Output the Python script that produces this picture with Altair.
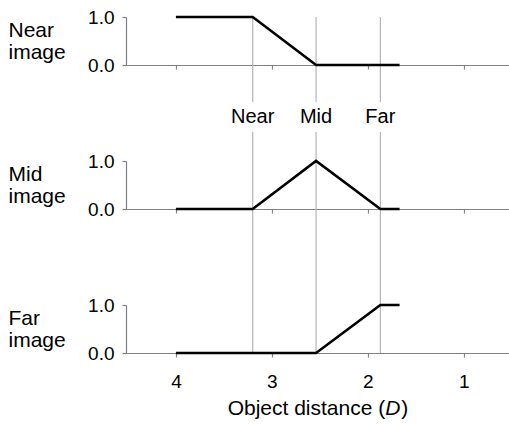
import altair as alt
import pandas as pd

FONT = "Liberation Sans"

# Tick values of the shared distance axis (dioptres, reversed)
x_ticks = [4, 3, 2, 1]

# Focal planes of the three image layers
plane_names = ["Near", "Mid", "Far"]
plane_pos = [3.2, 2.54, 1.87]

# Weight of each image layer as a function of object distance
near_d = [4.0, 3.2, 2.54, 1.67]
near_w = [1.0, 1.0, 0.0, 0.0]

mid_d = [4.0, 3.2, 2.54, 1.87, 1.67]
mid_w = [0.0, 0.0, 1.0, 0.0, 0.0]

far_d = [4.0, 2.54, 1.87, 1.67]
far_w = [0.0, 0.0, 1.0, 1.0]

W, H, GAP = 383, 48, 96
AXIS_GREY = "#808080"
RULE_GREY = "#b5b5b5"

xscale = alt.Scale(domain=[4.52, 0.53], nice=False, zero=False)
yscale = alt.Scale(domain=[0, 1], nice=False, zero=False)

planes = pd.DataFrame({"d": plane_pos, "name": plane_names})


def x_axis(show_labels):
    return alt.Axis(
        values=x_ticks, tickSize=4, labels=show_labels, labelFont=FONT,
        labelFontSize=19, labelColor="black", labelPadding=15, title=None,
        grid=False, domainColor=AXIS_GREY, tickColor=AXIS_GREY,
        domainWidth=1.2, tickWidth=1.2,
    )


def y_axis(title_lines):
    return alt.Axis(
        values=[0, 1], format=".1f", tickSize=4, labelFont=FONT,
        labelFontSize=19, labelColor="black", labelPadding=8,
        grid=False, domainColor=AXIS_GREY, tickColor=AXIS_GREY,
        domainWidth=1.2, tickWidth=1.2,
        title=title_lines, titleAngle=0, titleAlign="left",
        titleBaseline="middle", titleX=-118, titleY=H / 2 - 11,
        titleFont=FONT, titleFontSize=21, titleFontWeight="normal",
        titleColor="black", titleLineHeight=22,
    )


def rules(segments, show_labels):
    xa = x_axis(show_labels)
    layers = []
    for y0, y1 in segments:
        layers.append(
            alt.Chart(planes).mark_rule(color=RULE_GREY, strokeWidth=1.2).encode(
                x=alt.X("d:Q", scale=xscale, axis=xa),
                y=alt.value(y0),
                y2=alt.value(y1),
            )
        )
    return layers


def panel(d, w, title_lines, segments, show_labels, extra=()):
    df = pd.DataFrame({"d": d, "w": w})
    line = alt.Chart(df).mark_line(color="black", strokeWidth=2.6).encode(
        x=alt.X("d:Q", scale=xscale, axis=x_axis(show_labels)),
        y=alt.Y("w:Q", scale=yscale, axis=y_axis(title_lines)),
    )
    return alt.layer(*rules(segments, show_labels), line, *extra).properties(
        width=W, height=H
    )


# Plane names sit in the gap under the top panel, breaking the rules
plane_labels = alt.Chart(planes).mark_text(
    font=FONT, fontSize=20, baseline="middle", color="black"
).encode(
    x=alt.X("d:Q", scale=xscale, axis=x_axis(False)),
    y=alt.value(100),
    text="name:N",
)

# x-axis title with an italic D
fs = 21
w_main = 7.503 * fs
w_d = 0.722 * fs
start = W / 2 - (w_main + w_d + 0.333 * fs) / 2
title_y = H + 56
t_main = alt.Chart(pd.DataFrame({"t": ["Object distance ("]})).mark_text(
    font=FONT, fontSize=fs, align="right", baseline="middle", color="black"
).encode(x=alt.value(start + w_main), y=alt.value(title_y), text="t:N")
t_d = alt.Chart(pd.DataFrame({"t": ["D"]})).mark_text(
    font=FONT, fontSize=fs, fontStyle="italic", align="left",
    baseline="middle", color="black"
).encode(x=alt.value(start + w_main), y=alt.value(title_y), text="t:N")
t_close = alt.Chart(pd.DataFrame({"t": [")"]})).mark_text(
    font=FONT, fontSize=fs, align="left", baseline="middle", color="black"
).encode(x=alt.value(start + w_main + w_d + 1), y=alt.value(title_y), text="t:N")

p_near = panel(near_d, near_w, ["Near", "image"],
               [(0, 85), (115, H + GAP)], False, extra=(plane_labels,))
p_mid = panel(mid_d, mid_w, ["Mid", "image"], [(0, H + GAP)], False)
p_far = panel(far_d, far_w, ["Far", "image"], [(0, H)], True,
              extra=(t_main, t_d, t_close))

chart = alt.vconcat(p_near, p_mid, p_far, spacing=GAP, bounds="flush").properties(
    padding={"left": 8, "top": 8, "right": 0, "bottom": 4},
    background="white",
).configure_view(stroke=None)

chart.save("out.html", embed_options={"renderer": "svg", "actions": False})
